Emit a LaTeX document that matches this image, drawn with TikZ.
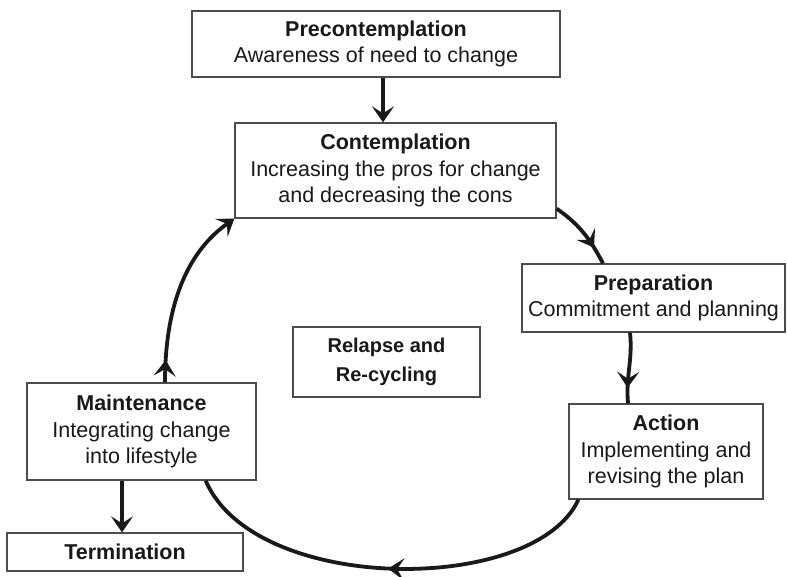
\documentclass[tikz,border=0pt]{standalone}
\usepackage{fontspec}
\setmainfont{Liberation Sans}
\usetikzlibrary{arrows.meta,decorations.markings}
\begin{document}
\begin{tikzpicture}[x=1pt,y=-1pt,
  stagebox/.style={draw=black!70, line width=1.3pt, align=center, inner sep=0pt, text=black!90, font=\fontsize{21.5}{26.5}\selectfont},
  conn/.style={line width=3.8pt, draw=black!90},
  tip/.style={-{Stealth[length=16pt,width=22pt,inset=7pt]}},
  midtip/.style={postaction={decorate}, decoration={markings, mark=at position #1 with {\arrow{Stealth[length=16pt,width=22pt,inset=7pt]}}}}
]
\useasboundingbox (0,0) rectangle (787,577);

\node[stagebox, minimum width=368pt, minimum height=66pt] (pre) at (376,44) {\textbf{Precontemplation}\\Awareness of need to change};
\node[stagebox, minimum width=321pt, minimum height=95pt] (con) at (395.5,170.5) {\textbf{Contemplation}\\Increasing the pros for change\\and decreasing the cons};
\node[stagebox, minimum width=263pt, minimum height=68pt] (prep) at (653.5,298) {\textbf{Preparation}\\Commitment and planning};
\node[stagebox, minimum width=194pt, minimum height=95pt] (act) at (666,451.5) {\textbf{Action}\\Implementing and\\revising the plan};
\node[stagebox, minimum width=229pt, minimum height=97pt] (main) at (141.5,431.5) {\textbf{Maintenance}\\Integrating change\\into lifestyle};
\node[stagebox, minimum width=236pt, minimum height=38pt] (term) at (125,552) {\textbf{Termination}};
\node[stagebox, minimum width=187pt, minimum height=70pt, font=\bfseries\fontsize{20}{29}\selectfont] (rel) at (386.5,362) {Relapse and\\Re-cycling};

% pre -> con
\coordinate (p1) at ([xshift=7pt]pre.south);
\draw[conn, tip] (p1) -- (p1 |- con.north);

% con -> prep
\coordinate (c1) at ([yshift=10pt]con.south east);
\coordinate (c2) at ([xshift=-50.5pt]prep.north);
\draw[conn, midtip=0.75] (c1) to[out=-35,in=118] (c2);

% prep -> act
\coordinate (r1) at ([xshift=-23.5pt]prep.south);
\coordinate (r2) at ([xshift=-38pt]act.north);
\draw[conn, midtip=0.78] (r1) to[out=-84,in=95] (r2);

% act -> main
\coordinate (a1) at ([xshift=10pt]act.south west);
\coordinate (a2) at ([xshift=-51pt]main.south east);
\draw[conn, midtip=0.5] (a1) .. controls (535,595) and (255,595) .. (a2);

% main -> con
\coordinate (m1) at ([xshift=23.5pt]main.north);
\draw[conn, tip, midtip=0.12] (m1) .. controls (165,300) and (190,250) .. (con.south west);

% main -> term
\coordinate (t1) at ([xshift=-19.5pt]main.south);
\draw[conn, tip] (t1) -- (t1 |- term.north);
\end{tikzpicture}
\end{document}
